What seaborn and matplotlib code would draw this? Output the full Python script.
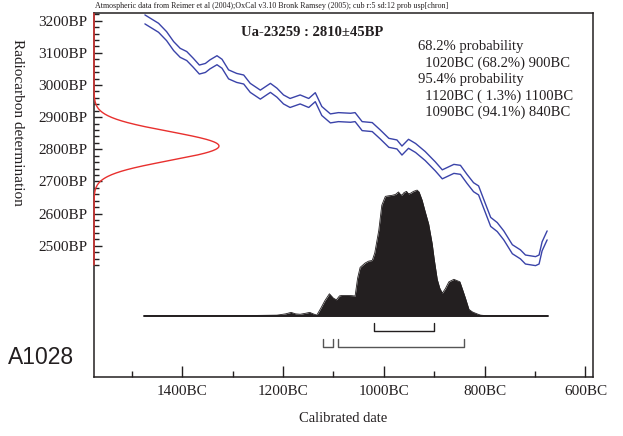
import numpy as np
import pandas as pd
import matplotlib
matplotlib.use("Agg")
import matplotlib.pyplot as plt
import seaborn as sns

# ---------------- data ----------------
# calibration curve (IntCal04), centre line, years BC and radiocarbon years BP
cal_bc = [1474, 1447, 1431, 1417, 1404, 1391, 1378, 1366, 1354, 1345, 1331, 1321,
          1308, 1292, 1278, 1265, 1245, 1225, 1212, 1199, 1186, 1166, 1149, 1136,
          1123, 1106, 1090, 1066, 1057, 1043, 1023, 1007, 990, 974, 964, 951, 937,
          918, 898, 884, 861, 848, 835, 822, 812, 802, 788, 775, 762, 745, 729,
          719, 699, 692, 686, 676]
cal_bp = [3204, 3178, 3152, 3121, 3100, 3090, 3069, 3048, 3053, 3064, 3077, 3066,
          3033, 3022, 3017, 2991, 2970, 2991, 2976, 2955, 2944, 2955, 2944, 2962,
          2919, 2896, 2900, 2898, 2900, 2872, 2869, 2846, 2820, 2815, 2796, 2817, 2804,
          2779, 2747, 2722, 2739, 2736, 2708, 2682, 2672, 2631, 2574, 2558, 2532, 2489, 2473,
          2457, 2452, 2457, 2498, 2532]
cal_sigma = 14

# radiocarbon determination
c14_age = 2810
c14_err = 45

# calibrated probability distribution (relative)
prob_bc = [1475, 1300, 1212, 1195, 1184, 1175, 1166, 1155, 1147, 1140, 1133, 1125,
           1117, 1108, 1100, 1094, 1088, 1083, 1073, 1063, 1057, 1052, 1047, 1037,
           1030, 1023, 1018, 1010, 1004, 997, 990, 984, 977, 971, 967, 964, 960,
           955, 951, 947, 941, 934, 930, 924, 918, 911, 904, 900, 894, 889, 884,
           878, 871, 861, 849, 843, 838, 831, 824, 815, 808, 795, 675]
prob_val = [0.0, 0.0, 0.005, 0.015, 0.027, 0.015, 0.012, 0.02, 0.027, 0.015, 0.005, 0.06,
            0.12, 0.175, 0.14, 0.127, 0.158, 0.162, 0.162, 0.16, 0.157, 0.3, 0.385, 0.42,
            0.435, 0.44, 0.5, 0.68, 0.88, 0.95, 0.955, 0.958, 0.965, 0.985, 0.965, 0.96, 0.98,
            0.99, 0.97, 0.975, 0.99, 1.0, 0.985, 0.92, 0.83, 0.73, 0.573, 0.45, 0.29, 0.22, 0.18,
            0.215, 0.27, 0.29, 0.27, 0.2, 0.14, 0.05, 0.03, 0.015, 0.005, 0.0, 0.0]

# highest probability ranges (BC)
range68 = [(1020, 900)]
range95 = [(1120, 1100), (1090, 840)]

x_major = [1400, 1200, 1000, 800, 600]
x_minor = [1500, 1300, 1100, 900, 700]
y_major = [2500, 2600, 2700, 2800, 2900, 3000, 3100, 3200]

title = "Ua-23259 : 2810\u00b145BP"
header = ("Atmospheric data from Reimer et al (2004);OxCal v3.10 Bronk Ramsey (2005); "
          "cub r:5 sd:12 prob usp[chron]")
prob_lines = ["68.2% probability", "  1020BC (68.2%) 900BC", "95.4% probability",
              "  1120BC ( 1.3%) 1100BC", "  1090BC (94.1%) 840BC"]
sample_id = "A1028"

# ---------------- plotting ----------------
sns.set_theme(style="white")
plt.rcParams['font.family'] = ['Liberation Serif', 'DejaVu Serif']

W, H = 623, 436
fig = plt.figure(figsize=(W / 100, H / 100), dpi=100)
ax = fig.add_axes([94 / W, 1 - 377 / H, (593 - 94) / W, (377 - 13.3) / H])

XMIN, XMAX = -1575, -585
YMIN, YMAX = 2091.5, 3223
ax.set_xlim(XMIN, XMAX)
ax.set_ylim(YMIN, YMAX)

blue = "#3a43a9"
curve = pd.DataFrame({"x": [-b for b in cal_bc], "mid": cal_bp})
curve["upper"] = curve["mid"] + cal_sigma
curve["lower"] = curve["mid"] - cal_sigma
sns.lineplot(data=curve, x="x", y="upper", ax=ax, color=blue, lw=1.0, sort=False,
             solid_joinstyle="round")
sns.lineplot(data=curve, x="x", y="lower", ax=ax, color=blue, lw=1.0, sort=False,
             solid_joinstyle="round")

# radiocarbon date distribution on the y axis
bp_grid = np.linspace(2440, YMAX, 600)
dens = np.exp(-0.5 * ((bp_grid - c14_age) / c14_err) ** 2)
ax.plot(XMIN + 248 * dens, bp_grid, color="#e8302e", lw=1.0, clip_on=False, zorder=5)

# calibrated distribution
base_bp = 2282
scale_bp = 391
px = np.array([-b for b in prob_bc], dtype=float)
py = base_bp + scale_bp * np.array(prob_val)
ax.fill_between(px, base_bp, py, color="#231f20", lw=0)
ax.plot(px, py, color="#231f20", lw=0.6)
ax.plot([px[0], px[-1]], [base_bp, base_bp], color="#231f20", lw=1.4)

# range brackets
def bracket(lo, hi, top, bot, color):
    ax.plot([-lo, -lo, -hi, -hi], [top, bot, bot, top], color=color, lw=1.0)

for lo, hi in range68:
    bracket(lo, hi, 2259, 2235, "#231f20")
for lo, hi in range95:
    bracket(lo, hi, 2210, 2184, "#555555")

# axes styling
for s in ax.spines.values():
    s.set_color("#231f20")
    s.set_linewidth(1.1)
ax.set_xticks([-v for v in x_major])
ax.set_xticklabels([f"{v}BC" for v in x_major])
ax.set_xticks([-v for v in x_minor], minor=True)
ax.set_yticks(y_major)
ax.set_yticklabels([f"{v}BP" for v in y_major])
ax.set_yticks([v for v in range(2440, 3221, 20) if v % 100 != 0], minor=True)
ax.tick_params(axis="both", which="both", direction="in", colors="#231f20",
               labelcolor="#231f20", width=1.0, top=False, right=False,
               bottom=True, left=True)
ax.tick_params(axis="x", which="major", length=8, pad=6, labelsize=11)
ax.tick_params(axis="x", which="minor", length=4)
ax.tick_params(axis="y", which="major", length=6, pad=5, labelsize=11)
ax.tick_params(axis="y", which="minor", length=3.5)
ax.set_xlabel("")
ax.set_ylabel("")
ax.grid(False)

# texts
fig.text(95 / W, 1 - 6 / H, header, fontsize=5.8, ha="left", va="center", color="#231f20")
fig.text(241 / W, 1 - 33 / H, title, fontsize=10.5, fontweight="bold", ha="left",
         va="center", color="#231f20")
ys = [46.7, 63.3, 79.5, 96, 112.7]
for line, yy in zip(prob_lines, ys):
    fig.text(418 / W, 1 - yy / H, line, fontsize=10.5, ha="left", va="center",
             color="#231f20")
fig.text(17.5 / W, 1 - 122 / H, "Radiocarbon determination", rotation=-90,
         fontsize=11, ha="center", va="center", color="#231f20")
fig.text(343 / W, 1 - 418 / H, "Calibrated date", fontsize=10.5, ha="center",
         va="center", color="#231f20")
fig.text(8 / W, 1 - 357 / H, sample_id, fontsize=16.5, family="Liberation Sans",
         ha="left", va="center", color="#231f20")

fig.savefig("out.png", dpi=100)
